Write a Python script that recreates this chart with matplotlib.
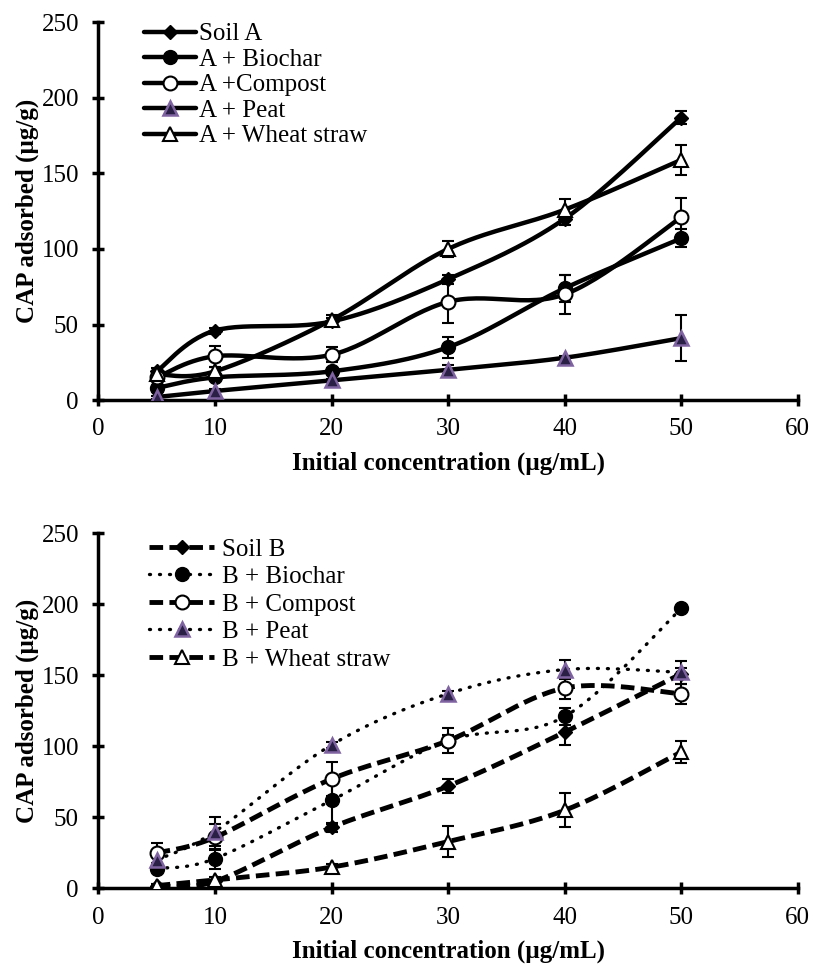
import numpy as np
import matplotlib.pyplot as plt
from matplotlib.lines import Line2D

plt.rcParams['font.family'] = ['Liberation Serif', 'DejaVu Serif']

conc = [5, 10, 20, 30, 40, 50]

# Soil A group (top panel)
labels_a = ['Soil A', 'A + Biochar', 'A +Compost', 'A + Peat', 'A + Wheat straw']
soil_a = [19, 46, 52, 80, 120, 187]
biochar_a = [8, 15, 19, 35, 74, 107]
compost_a = [15, 29, 30, 65, 70, 121]
peat_a = [2, 6, 13, 20, 28, 41]
wheat_a = [17, 19, 53, 100, 126, 159]
soil_a_err = [2, 2, 2, 3, 4, 4]
biochar_a_err = [1, 2, 2, 7, 9, 6]
compost_a_err = [2, 7, 5, 14, 13, 13]
peat_a_err = [1, 1, 1, 3, 1, 15]
wheat_a_err = [1, 3, 3, 5, 7, 10]

# Soil B group (bottom panel)
labels_b = ['Soil B', 'B + Biochar', 'B + Compost', 'B + Peat', 'B + Wheat straw']
soil_b = [2, 5, 43, 72, 110, 151]
biochar_b = [14, 21, 62, 104, 121, 197]
compost_b = [25, 36, 77, 104, 141, 137]
peat_b = [20, 40, 101, 137, 154, 152]
wheat_b = [2, 6, 15, 33, 55, 96]
soil_b_err = [1, 1, 3, 5, 9, 4]
biochar_b_err = [2, 7, 17, 4, 6, 2]
compost_b_err = [7, 9, 12, 9, 8, 7]
peat_b_err = [2, 10, 2, 2, 7, 8]
wheat_b_err = [1, 2, 2, 11, 12, 8]

PURPLE = '#7f63a1'
PEAT_FILL = '#2a1f45'


def smooth(x, y, n=30):
    # uniform Catmull-Rom through the points, like Excel's smoothed line
    p = np.column_stack([x, y]).astype(float)
    p = np.vstack([p[0], p, p[-1]])
    out = []
    t = np.linspace(0, 1, n)[:, None]
    for i in range(1, len(p) - 2):
        p0, p1, p2, p3 = p[i - 1], p[i], p[i + 1], p[i + 2]
        seg = 0.5 * ((2 * p1) + (-p0 + p2) * t + (2 * p0 - 5 * p1 + 4 * p2 - p3) * t ** 2
                     + (-p0 + 3 * p1 - 3 * p2 + p3) * t ** 3)
        out.append(seg)
    out = np.vstack(out)
    return out[:, 0], out[:, 1]


markers = [
    dict(marker='D', ms=7.5, mfc='black', mec='black'),
    dict(marker='o', ms=10, mfc='black', mec='black'),
    dict(marker='o', ms=10, mfc='white', mec='black', mew=1.5),
    dict(marker='^', ms=10, mfc=PEAT_FILL, mec=PURPLE, mew=1.8),
    dict(marker='^', ms=10, mfc='white', mec='black', mew=1.5),
]


def panel(ax, series, errs, labels, styles, leg_x, leg_y, hlen, lspace, tpad):
    handles = []
    for y, e, lab, mk, st in zip(series, errs, labels, markers, styles):
        sx, sy = smooth(conc, y)
        ax.plot(sx, sy, color='black', zorder=2, **st)
        ax.errorbar(conc, y, yerr=e, fmt='none', ecolor='black', elinewidth=1.5,
                    capsize=4, capthick=1.5, zorder=3)
        ax.plot(conc, y, ls='none', zorder=4, **mk)
        handles.append(Line2D([], [], color='black', **st, **mk))
    ax.set_xlim(0, 60)
    ax.set_ylim(0, 250)
    ax.set_xticks(range(0, 61, 10))
    ax.set_yticks(range(0, 251, 50))
    for s in ['top', 'right']:
        ax.spines[s].set_visible(False)
    for s in ['left', 'bottom']:
        ax.spines[s].set_linewidth(2.5)
    ax.tick_params(direction='inout', length=8, width=2.5, labelsize=18)
    ax.tick_params(axis='x', pad=9)
    ax.tick_params(axis='y', pad=10)
    ax.set_xlabel('Initial concentration (µg/mL)', fontsize=18, fontweight='bold',
                  labelpad=8)
    ax.set_ylabel('CAP adsorbed (µg/g)', fontsize=18, fontweight='bold', labelpad=2)
    ax.legend(handles, labels, loc='upper left', bbox_to_anchor=(leg_x, leg_y),
              frameon=False, fontsize=18, handlelength=hlen, handletextpad=tpad,
              labelspacing=lspace, borderpad=0.2)


fig = plt.figure(figsize=(8.2, 9.71), dpi=100)
ax1 = fig.add_axes([0.12, 0.588, 0.853, 0.389])
ax2 = fig.add_axes([0.12, 0.085, 0.853, 0.366])

solid = dict(ls='-', lw=3.2, solid_capstyle='round')
dashed = dict(ls=(0, (2.8, 1.3)), lw=3.5, dash_capstyle='butt')
dotted = dict(ls=(0, (0.3, 2.7)), lw=2.4, dash_capstyle='round')

panel(ax1, [soil_a, biochar_a, compost_a, peat_a, wheat_a],
      [soil_a_err, biochar_a_err, compost_a_err, peat_a_err, wheat_a_err],
      labels_a, [solid] * 5, 0.04, 1.045, 2.1, 0.12, 0.1)
panel(ax2, [soil_b, biochar_b, compost_b, peat_b, wheat_b],
      [soil_b_err, biochar_b_err, compost_b_err, peat_b_err, wheat_b_err],
      labels_b, [dashed, dotted, dashed, dotted, dashed], 0.048, 1.035, 2.6, 0.2, 0.3)

fig.savefig('out.png', dpi=100)
